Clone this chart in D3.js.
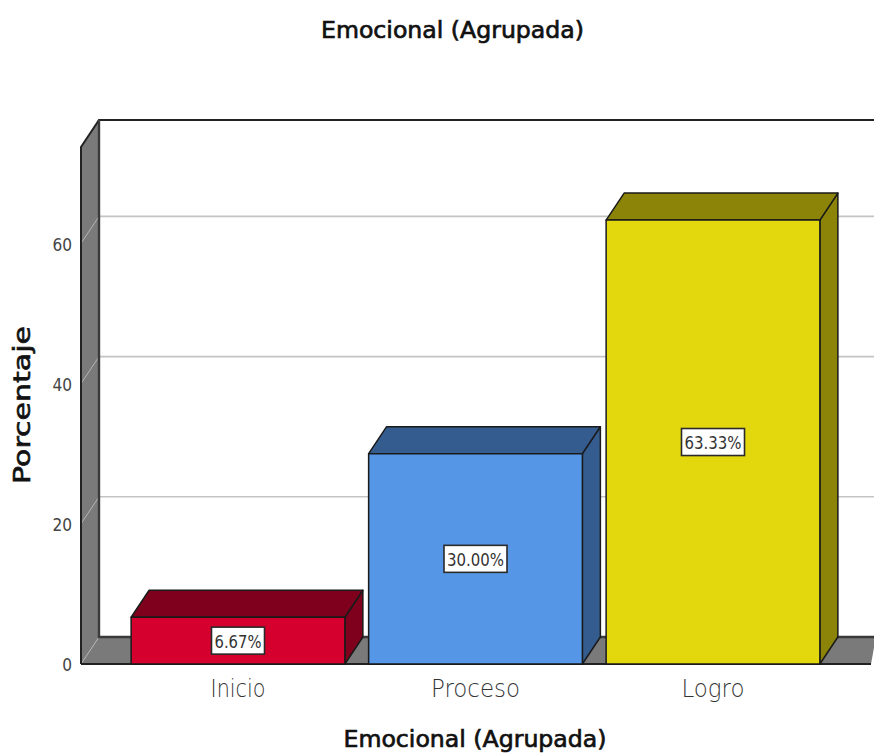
<!DOCTYPE html>
<html><head><meta charset="utf-8">
<script src="https://cdnjs.cloudflare.com/ajax/libs/d3/7.8.5/d3.min.js"></script>
<style>html,body{margin:0;padding:0;background:#fff;overflow:hidden}svg{display:block}</style>
</head><body><svg id="c" width="874" height="753"></svg>
<script>
const categories = ["Inicio","Proceso","Logro"];
const values = [6.67,30.00,63.33];
const labels = ["6.67%","30.00%","63.33%"];
const faceColors = ["#d5002e","#5596e6","#e3d80e"];
const sideColors = ["#7f001c","#345c8e","#8c8408"];
const yTicks = [0,20,40,60];
const chartTitle = "Emocional (Agrupada)";
const xTitle = "Emocional (Agrupada)";
const yTitle = "Porcentaje";
const yMax = 73.75;

const svg = d3.select("#c");
const y = d3.scaleLinear().domain([0,yMax]).range([664,147]);
const x = d3.scaleBand().domain(categories).range([119.25,831.75]).paddingInner(0.1).paddingOuter(0.05);
const dx = 18, dy = -27, left = 81, right = 871;
const ink = "#222", wallC = "#7a7a7a";
const poly = pts => pts.map(p=>p.join(",")).join(" ");
const y0 = y(0), yT = y(yMax);

svg.append("rect").attr("x",left+dx).attr("y",yT+dy).attr("width",874-left-dx+2).attr("height",y0-yT).attr("fill","#fff");
yTicks.filter(t=>t>0).forEach(t=>{
  svg.append("line").attr("x1",left+dx).attr("x2",874).attr("y1",y(t)+dy).attr("y2",y(t)+dy).attr("stroke","#c4c4c4").attr("stroke-width",1.6);
});
svg.append("polygon").attr("points",poly([[left,y0],[left+dx,y0+dy],[left+dx,yT+dy],[left,yT]])).attr("fill",wallC);
svg.append("polygon").attr("points",poly([[left,y0],[left+dx,y0+dy],[876,y0+dy],[right,y0]])).attr("fill",wallC);
yTicks.forEach(t=>{
  svg.append("line").attr("x1",left).attr("x2",left+dx).attr("y1",y(t)).attr("y2",y(t)+dy).attr("stroke","#b4b4b4").attr("stroke-width",1);
});
svg.append("path").attr("d",`M${left},${y0}V${yT}L${left+dx},${yT+dy}H876`).attr("fill","none").attr("stroke",ink).attr("stroke-width",2);
svg.append("path").attr("d",`M${left+dx},${yT+dy}V${y0+dy}H876`).attr("fill","none").attr("stroke","#3a3a3a").attr("stroke-width",2.4);
svg.append("line").attr("x1",left).attr("x2",right).attr("y1",y0).attr("y2",y0).attr("stroke",ink).attr("stroke-width",2);

categories.forEach((c,i)=>{
  const a=x(c), b=a+x.bandwidth(), t=y(values[i]);
  const g=svg.append("g").attr("stroke","#1a1a1a").attr("stroke-width",1.5).attr("stroke-linejoin","round");
  g.append("polygon").attr("points",poly([[b,y0],[b+dx,y0+dy],[b+dx,t+dy],[b,t]])).attr("fill",sideColors[i]);
  g.append("polygon").attr("points",poly([[a,t],[a+dx,t+dy],[b+dx,t+dy],[b,t]])).attr("fill",sideColors[i]);
  g.append("rect").attr("x",a).attr("y",t).attr("width",b-a).attr("height",y0-t).attr("fill",faceColors[i]);
});

categories.forEach((c,i)=>{
  const cx=x(c)+x.bandwidth()/2, cy=(y(values[i])+y0)/2;
  const w = labels[i].length>5?63:53;
  svg.append("rect").attr("x",cx-w/2).attr("y",cy-13.5).attr("width",w).attr("height",27).attr("fill","#fff").attr("stroke","#2a2a2a").attr("stroke-width",1.6);
  svg.append("text").attr("x",cx).attr("y",cy+7).attr("text-anchor","middle").attr("font-family","DejaVu Sans").attr("font-size",17.5).attr("fill","#333").attr("textLength",w-6).attr("lengthAdjust","spacingAndGlyphs").text(labels[i]);
});
yTicks.forEach(t=>{
  svg.append("text").attr("x",72).attr("y",y(t)+7.5).attr("text-anchor","end").attr("font-family","DejaVu Sans").attr("font-size",17.5).attr("fill","#444").attr("transform",`translate(72,0) scale(0.88,1) translate(-72,0)`).text(t);
});
const tickWidths = [55,89,63];
categories.forEach((c,i)=>{
  const cx=x(c)+x.bandwidth()/2;
  svg.append("text").attr("x",cx).attr("y",697).attr("text-anchor","middle").attr("font-family","DejaVu Sans").attr("font-weight",200).attr("font-size",25).attr("fill","#333").attr("textLength",tickWidths[i]).attr("lengthAdjust","spacingAndGlyphs").text(c);
});
svg.append("text").attr("x",452.5).attr("y",37.5).attr("text-anchor","middle").attr("font-family","DejaVu Sans").attr("font-size",23.5).attr("fill","#111").attr("stroke","#111").attr("stroke-width",.7).attr("textLength",263).attr("lengthAdjust","spacingAndGlyphs").text(chartTitle);
svg.append("text").attr("x",475).attr("y",747).attr("text-anchor","middle").attr("font-family","DejaVu Sans").attr("font-size",23.5).attr("fill","#111").attr("stroke","#111").attr("stroke-width",.7).attr("textLength",263).attr("lengthAdjust","spacingAndGlyphs").text(xTitle);
svg.append("text").attr("transform","translate(30,405) rotate(-90)").attr("text-anchor","middle").attr("font-family","DejaVu Sans").attr("font-size",23).attr("fill","#111").attr("stroke","#111").attr("stroke-width",.6).attr("textLength",158).attr("lengthAdjust","spacingAndGlyphs").text(yTitle);
</script></body></html>
